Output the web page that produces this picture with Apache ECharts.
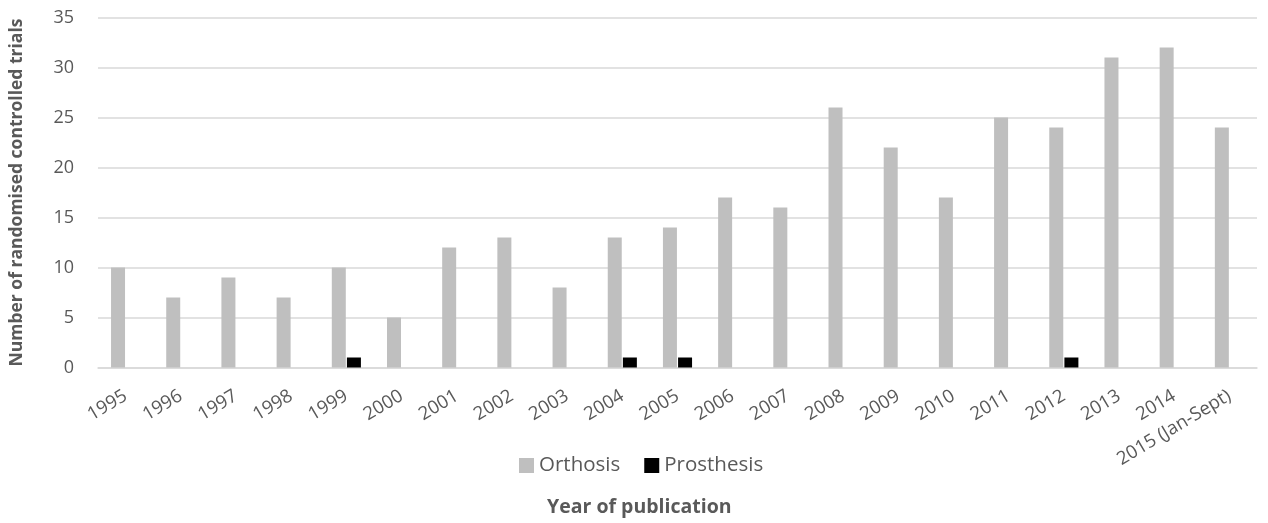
<!DOCTYPE html>
<html>
<head>
<meta charset="utf-8">
<script src="https://cdn.jsdelivr.net/npm/echarts@6/dist/echarts.min.js"></script>
<style>html,body{margin:0;padding:0;background:#fff}#c{width:1268px;height:523px}</style>
</head>
<body>
<div id="c"></div>
<script>
var categories = ['1995','1996','1997','1998','1999','2000','2001','2002','2003','2004','2005','2006','2007','2008','2009','2010','2011','2012','2013','2014','2015 (Jan-Sept)'];
var orthosis = [10,7,9,7,10,5,12,13,8,13,14,17,16,26,22,17,25,24,31,32,24];
var prosthesis = [null,null,null,null,1,null,null,null,null,1,1,null,null,null,null,null,null,1,null,null,null];
var yTicks = {min:0, max:35, interval:5};

var font = 'Open Sans, Noto Sans, sans-serif';
var chart = echarts.init(document.getElementById('c'));
chart.setOption({
  animation:false,
  title:{
    text:'Year of publication', left:547, top:497, padding:0,
    textStyle:{color:'#595959', fontSize:19.5, fontWeight:'bold', fontFamily:font}
  },
  grid:{left:98, right:11, top:17.5, bottom:155.5},
  legend:{
    data:['Orthosis','Prosthesis'], top:450, left:514,
    itemWidth:15, itemHeight:15, itemGap:24, icon:'rect',
    textStyle:{color:'#595959', fontSize:20.5, fontFamily:font}
  },
  xAxis:{
    type:'category', data:categories,
    axisLine:{lineStyle:{color:'#D9D9D9', width:1.5}},
    axisTick:{show:false},
    axisLabel:{rotate:31, color:'#595959', fontSize:18.5, fontFamily:font, interval:0, margin:27}
  },
  yAxis:{
    type:'value', min:yTicks.min, max:yTicks.max, interval:yTicks.interval,
    name:'Number of randomised controlled trials', nameLocation:'middle', nameGap:72,
    nameTextStyle:{color:'#595959', fontSize:17.5, fontWeight:'bold', fontFamily:font},
    axisLine:{show:false}, axisTick:{show:false},
    splitLine:{lineStyle:{color:'#D9D9D9', width:1.5}},
    axisLabel:{color:'#595959', fontSize:18, fontFamily:font, margin:24}
  },
  series:[
    {name:'Orthosis', type:'bar', data:orthosis, barWidth:14, barGap:'8%', itemStyle:{color:'#BFBFBF'}},
    {name:'Prosthesis', type:'bar', data:prosthesis, barWidth:14, itemStyle:{color:'#000000'}}
  ]
});
</script>
</body>
</html>
